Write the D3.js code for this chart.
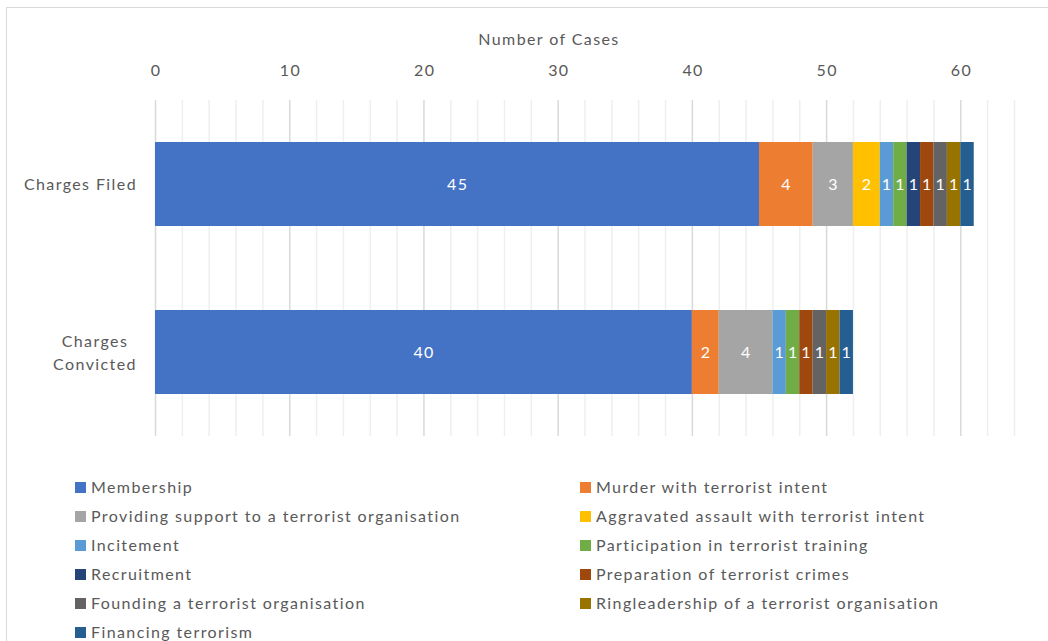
<!DOCTYPE html>
<html lang="en">
<head>
    <meta charset="UTF-8">
    <title>Number of Cases</title>
    <script src="https://d3js.org/d3.v7.min.js"></script>
    <style>
        body { margin: 0; background: #fff; }
        svg text { font-family: Lato, "Noto Sans", sans-serif; fill: #595959; letter-spacing: 1.4px; }
    </style>
</head>
<body>
    <div id="chart"></div>
    <script>
        // data
        const categories = ["Charges Filed", "Charges Convicted"];
        const seriesNames = [
            "Membership",
            "Murder with terrorist intent",
            "Providing support to a terrorist organisation",
            "Aggravated assault with terrorist intent",
            "Incitement",
            "Participation in terrorist training",
            "Recruitment",
            "Preparation of terrorist crimes",
            "Founding a terrorist organisation",
            "Ringleadership of a terrorist organisation",
            "Financing terrorism"
        ];
        const filedValues = [45, 4, 3, 2, 1, 1, 1, 1, 1, 1, 1];
        const convictedValues = [40, 2, 4, 0, 1, 1, 0, 1, 1, 1, 1];
        const seriesColors = ["#4472C4", "#ED7D31", "#A5A5A5", "#FFC000", "#5B9BD5", "#70AD47",
            "#264478", "#9E480E", "#636363", "#997300", "#255E91"];
        const xTicks = [0, 10, 20, 30, 40, 50, 60];

        const W = 1048, H = 641;
        const svg = d3.select("#chart").append("svg").attr("width", W).attr("height", H);

        // chart frame
        svg.append("rect").attr("x", 6.5).attr("y", 7.5).attr("width", W + 10).attr("height", H + 10)
            .attr("fill", "none").attr("stroke", "#d9d9d9");

        const x = d3.scaleLinear().domain([0, 64]).range([155, 1014]);
        const y = d3.scaleBand().domain(categories).range([100, 436]).paddingInner(0.5).paddingOuter(0.25);

        // gridlines: minor every 2, major every 10
        const minor = d3.range(0, 65, 2).filter(v => v % 10 !== 0);
        svg.append("g").selectAll("line").data(minor).join("line")
            .attr("x1", d => x(d) + 0.5).attr("x2", d => x(d) + 0.5)
            .attr("y1", 100).attr("y2", 436)
            .attr("stroke", "#efefef").attr("stroke-width", 1.5);
        svg.append("g").selectAll("line").data(xTicks).join("line")
            .attr("x1", d => x(d) + 0.5).attr("x2", d => x(d) + 0.5)
            .attr("y1", 100).attr("y2", 436)
            .attr("stroke", "#d9d9d9").attr("stroke-width", 1.5);

        // top axis
        const axis = svg.append("g").attr("transform", "translate(0,100)")
            .call(d3.axisTop(x).tickValues(xTicks).tickSize(0).tickPadding(24));
        axis.select(".domain").remove();
        axis.selectAll("text").style("font-size", "16px").attr("fill", "#595959").attr("dx", "0.7px");

        svg.append("text").attr("x", 549).attr("y", 45).attr("text-anchor", "middle")
            .style("font-size", "16px").text("Number of Cases");

        // stacked bars
        const rows = categories.map((c, i) => {
            const vals = i === 0 ? filedValues : convictedValues;
            const r = { category: c };
            seriesNames.forEach((s, j) => r[s] = vals[j]);
            return r;
        });
        const stacked = d3.stack().keys(seriesNames)(rows);

        const layers = svg.append("g").selectAll("g").data(stacked).join("g")
            .attr("fill", (d, i) => seriesColors[i]);
        layers.selectAll("rect").data(d => d).join("rect")
            .attr("x", d => x(d[0]))
            .attr("width", d => x(d[1]) - x(d[0]))
            .attr("y", d => y(d.data.category))
            .attr("height", y.bandwidth());
        layers.selectAll("text").data(d => d.filter(p => p[1] - p[0] > 0)).join("text")
            .attr("x", d => (x(d[0]) + x(d[1])) / 2 + 0.7)
            .attr("y", d => y(d.data.category) + y.bandwidth() / 2)
            .attr("dy", "0.35em")
            .attr("text-anchor", "middle")
            .style("font-size", "16px")
            .style("fill", "#fff")
            .text(d => d[1] - d[0]);

        // category labels
        svg.append("text").attr("x", 137).attr("y", y("Charges Filed") + y.bandwidth() / 2)
            .attr("dy", "0.35em").attr("text-anchor", "end").style("font-size", "16px").text("Charges Filed");
        const conv = svg.append("text").attr("text-anchor", "middle").style("font-size", "16px");
        const cy = y("Charges Convicted") + y.bandwidth() / 2;
        conv.append("tspan").attr("x", 95).attr("y", cy - 11).attr("dy", "0.35em").text("Charges");
        conv.append("tspan").attr("x", 95).attr("y", cy + 12).attr("dy", "0.35em").text("Convicted");

        // legend, two columns
        const legend = svg.append("g").selectAll("g").data(seriesNames).join("g")
            .attr("transform", (d, i) => `translate(${i % 2 === 0 ? 75 : 580},${487 + Math.floor(i / 2) * 29})`);
        legend.append("rect").attr("x", 0).attr("y", -5).attr("width", 11).attr("height", 11)
            .attr("fill", (d, i) => seriesColors[i]);
        legend.append("text").attr("x", 16).attr("dy", "0.35em").style("font-size", "16px").text(d => d);
    </script>
</body>
</html>
